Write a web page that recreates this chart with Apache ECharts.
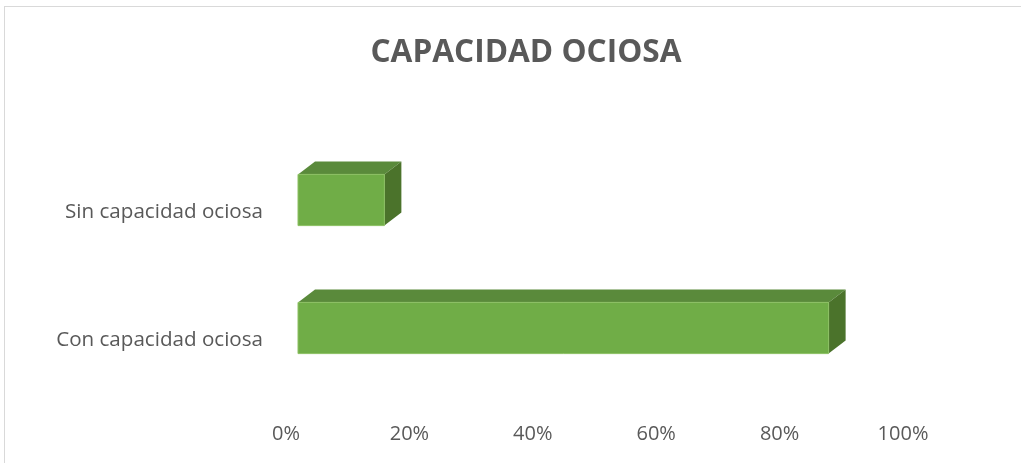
<!DOCTYPE html>
<html>
<head>
<meta charset="utf-8">
<script src="https://cdn.jsdelivr.net/npm/echarts@6/dist/echarts.min.js"></script>
<style>
  html, body { margin: 0; padding: 0; background: #fff; overflow: hidden; }
  #frame { position: absolute; left: 4px; top: 6px; right: 0; bottom: 0; border-top: 1px solid #d9d9d9; border-left: 1px solid #d9d9d9; }
  #chart { position: absolute; left: 0; top: 0; width: 1021px; height: 463px; }
</style>
</head>
<body>
<div id="frame"></div>
<div id="chart"></div>
<script>
// datos del grafico
var categories = ["Con capacidad ociosa", "Sin capacidad ociosa"];
var values = [86, 14];
var tickLabels = ["0%", "20%", "40%", "60%", "80%", "100%"];

var chart = echarts.init(document.getElementById("chart"));

var seriesData = values.map(function (v, i) {
  return [v, i];
});

chart.setOption({
  animation: false,
  title: {
    text: "CAPACIDAD OCIOSA",
    left: 521,
    textAlign: "center",
    top: 32,
    textStyle: {
      fontFamily: "Open Sans",
      fontWeight: "bold",
      fontSize: 31.6,
      color: "#595959"
    }
  },
  grid: {
    left: 286,
    right: 118,
    top: 148,
    bottom: 59
  },
  xAxis: {
    type: "value",
    min: 0,
    max: 100,
    interval: 20,
    axisLine: { show: false },
    axisTick: { show: false },
    splitLine: { show: false },
    axisLabel: {
      margin: 20,
      fontFamily: "Open Sans",
      fontSize: 20,
      color: "#595959",
      formatter: function (v) {
        return tickLabels[Math.round(v / 20)];
      }
    }
  },
  yAxis: {
    type: "category",
    data: categories,
    axisLine: { show: false },
    axisTick: { show: false },
    splitLine: { show: false },
    axisLabel: {
      margin: 23,
      fontFamily: "Open Sans",
      fontSize: 20.6,
      color: "#595959"
    }
  },
  series: [
    {
      type: "custom",
      data: seriesData,
      encode: { x: 0, y: 1 },
      renderItem: function (params, api) {
        var start = api.coord([0, api.value(1)]);
        var end = api.coord([api.value(0), api.value(1)]);
        var h = api.size([0, 1])[1] * 0.4; // alto de la cara frontal
        var dx = 17, dy = 13; // profundidad
        var ox = 12, oy = -12; // desplazamiento de perspectiva
        var x0 = start[0] + ox;
        var x1 = end[0] + ox;
        var yc = start[1] + oy;
        var top = yc - h / 2;
        var bot = yc + h / 2;
        return {
          type: "group",
          children: [
            {
              type: "polygon",
              shape: { points: [[x0, top], [x0 + dx, top - dy], [x1 + dx, top - dy], [x1, top]] },
              style: { fill: "#5a8a3b" }
            },
            {
              type: "polygon",
              shape: { points: [[x1, top], [x1 + dx, top - dy], [x1 + dx, bot - dy], [x1, bot]] },
              style: { fill: "#4b732b" }
            },
            {
              type: "rect",
              shape: { x: x0, y: top, width: x1 - x0, height: h },
              style: { fill: "#70ad47", stroke: "#8cc063", lineWidth: 1 }
            }
          ]
        };
      }
    }
  ]
});
</script>
</body>
</html>
